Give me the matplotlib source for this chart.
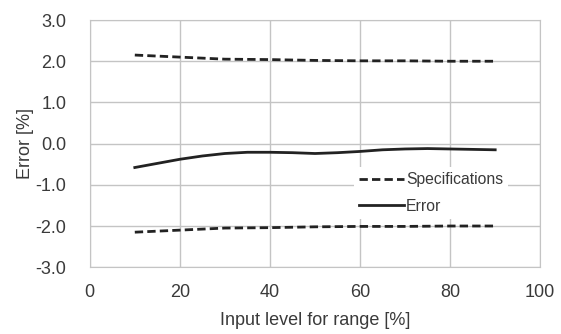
import numpy as np
import matplotlib.pyplot as plt

plt.rcParams['font.family'] = ['Liberation Sans', 'DejaVu Sans']

# input level [%]
level = np.array([10, 20, 30, 40, 50, 60, 70, 80, 90])
spec_hi = np.array([2.15, 2.10, 2.05, 2.04, 2.02, 2.01, 2.01, 2.00, 2.00])
spec_lo = np.array([-2.15, -2.10, -2.05, -2.04, -2.02, -2.01, -2.01, -2.00, -2.00])

err_x = np.array([10, 15, 20, 25, 30, 35, 40, 45, 50, 55, 60, 65, 70, 75, 80, 85, 90])
err_y = np.array([-0.58, -0.48, -0.38, -0.30, -0.24, -0.21, -0.21, -0.22, -0.24, -0.22, -0.19, -0.15, -0.13, -0.12, -0.13, -0.14, -0.15])

fig = plt.figure(figsize=(5.61, 3.34), dpi=100)
ax = fig.add_axes([0.160, 0.200, 0.803, 0.740])

col = '#222222'
ax.plot(level, spec_hi, color=col, lw=2.0, ls=(0, (3, 1.5)), label='Specifications')
ax.plot(err_x, err_y, color=col, lw=2.0, label='Error')
ax.plot(level, spec_lo, color=col, lw=2.0, ls=(0, (3, 1.5)))

ax.set_xlim(0, 100)
ax.set_ylim(-3, 3)
ax.set_xticks([0, 20, 40, 60, 80, 100])
ax.set_yticks(np.arange(-3, 3.1, 1))
ax.set_yticklabels(['%.1f' % v for v in np.arange(-3, 3.1, 1)])
ax.grid(True, color='#c4c4c4', lw=1.0)
ax.set_axisbelow(True)
for s in ax.spines.values():
    s.set_color('#c4c4c4')
ax.tick_params(length=0, labelsize=13, colors='#3a3a3a')
ax.tick_params(axis='y', pad=17)
ax.tick_params(axis='x', pad=12)

ax.set_xlabel('Input level for range [%]', fontsize=13, color='#3a3a3a', labelpad=8)
ax.set_ylabel('Error [%]', fontsize=13, color='#3a3a3a', labelpad=1)

leg = ax.legend(loc='lower right', bbox_to_anchor=(0.945, 0.165), fontsize=11.3, frameon=True,
                handlelength=2.9, handletextpad=0.1, labelspacing=0.75, borderpad=0.3)
leg.get_frame().set_edgecolor('none')
leg.get_frame().set_facecolor('white')
leg.get_frame().set_alpha(1)
leg.get_frame().set_boxstyle('square', pad=0)
for t in leg.get_texts():
    t.set_color('#3a3a3a')

fig.savefig('out.png', dpi=100)
